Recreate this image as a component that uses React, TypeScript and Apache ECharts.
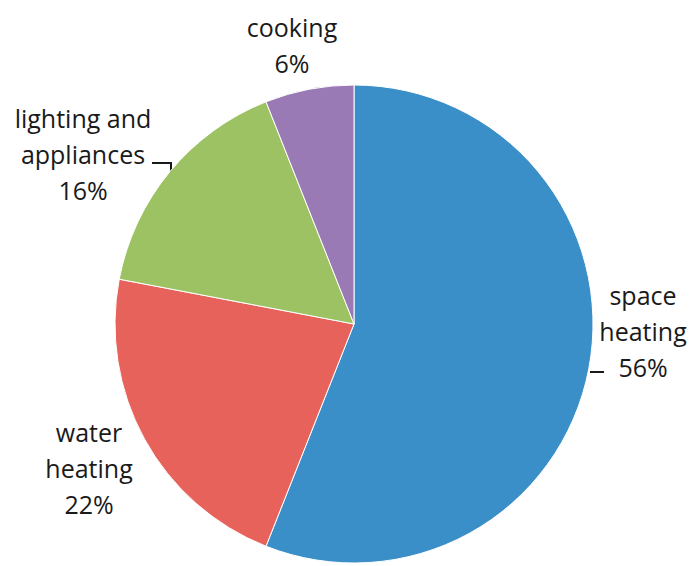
import React, { useEffect, useRef } from "react";
import * as echarts from "echarts";

const categories = ["space heating", "water heating", "lighting and appliances", "cooking"];
const labelTexts = ["space\nheating\n56%", "water\nheating\n22%", "lighting and\nappliances\n16%", "cooking\n6%"];
const values = [56, 22, 16, 6];
const colors = ["#3A8FC9", "#E8625C", "#9DC263", "#9A7AB4"];
const labelPos = [
  [643, 331],
  [89, 468],
  [83, 154],
  [292, 45],
];

export default function App() {
  const ref = useRef<HTMLDivElement>(null);
  useEffect(() => {
    const chart = echarts.init(ref.current!, undefined, { renderer: "svg" });
    chart.setOption({
      animation: false,
      backgroundColor: "#ffffff",
      series: [
        {
          type: "pie",
          center: [354, 324],
          radius: 239,
          startAngle: 90,
          clockwise: true,
          data: categories.map((c, i) => ({
            name: c,
            value: values[i],
            itemStyle: { color: colors[i] },
            label: { formatter: labelTexts[i] },
          })),
          itemStyle: { borderColor: "#ffffff", borderWidth: 1 },
          label: {
            show: true,
            color: "#1a1a1a",
            fontFamily: "Open Sans",
            fontSize: 25,
            lineHeight: 36,
            align: "center",
            overflow: "none",
            width: 200,
          },
          labelLine: { show: false },
          labelLayout: (params: any) => {
            const p = labelPos[params.dataIndex];
            return { x: p[0], y: p[1], align: "center", verticalAlign: "middle" };
          },
        },
      ],
      graphic: [
        {
          type: "polyline",
          shape: { points: [[590, 372], [604, 372]] },
          style: { stroke: "#1a1a1a", lineWidth: 2, fill: null },
        },
        {
          type: "polyline",
          shape: { points: [[152, 163], [171, 163], [171, 172]] },
          style: { stroke: "#1a1a1a", lineWidth: 2, fill: null },
        },
      ],
    });
    return () => chart.dispose();
  }, []);
  return (
    <div
      ref={ref}
      style={{ position: "fixed", left: 0, top: 0, width: 692, height: 566 }}
    />
  );
}
